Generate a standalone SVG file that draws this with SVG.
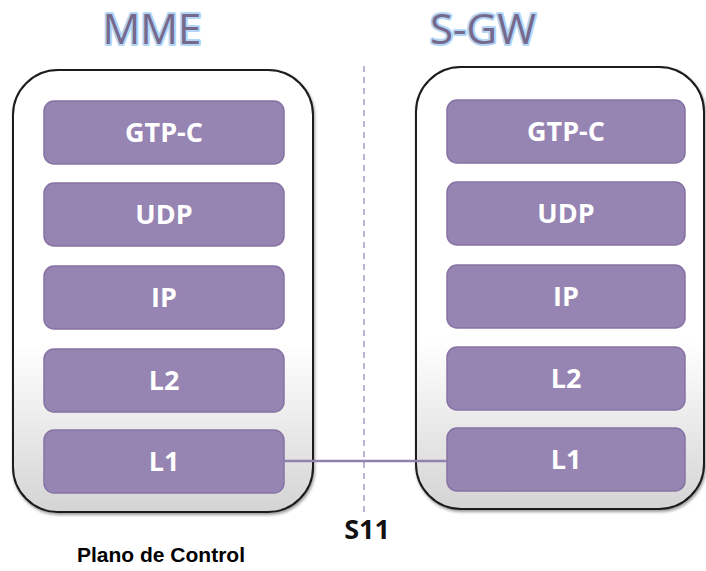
<svg xmlns="http://www.w3.org/2000/svg" width="706" height="571" viewBox="0 0 706 571">
<defs>
<linearGradient id="cg" x1="0" y1="0" x2="0" y2="1">
<stop offset="0" stop-color="#ffffff"/>
<stop offset="0.62" stop-color="#ffffff"/>
<stop offset="1" stop-color="#d4d4d4"/>
</linearGradient>
<filter id="sh" x="-10%" y="-10%" width="120%" height="120%">
<feGaussianBlur in="SourceAlpha" stdDeviation="1.5"/>
<feOffset dx="1" dy="2" result="b"/>
<feComponentTransfer><feFuncA type="linear" slope="0.4"/></feComponentTransfer>
<feMerge><feMergeNode/><feMergeNode in="SourceGraphic"/></feMerge>
</filter>
</defs>
<style>
.cont{fill:url(#cg);stroke:#1a1a1a;stroke-width:2}
.box{fill:#9684b2;stroke:#8673a3;stroke-width:1.5}
.bt{fill:#ffffff;font-family:"Open Sans","DejaVu Sans",sans-serif;font-weight:bold;font-size:27px;text-anchor:middle}
.title{fill:#76698c;stroke:#b3d5f6;stroke-width:4;stroke-linejoin:round;paint-order:stroke;font-family:"Open Sans","DejaVu Sans",sans-serif;font-size:42px;text-anchor:middle}
.lbl{fill:#111111;font-family:"Open Sans","Liberation Sans",sans-serif;font-weight:bold;font-size:27px;text-anchor:middle}
.cap{fill:#000000;font-family:"Liberation Sans",Arial,sans-serif;font-weight:bold;font-size:21px;text-anchor:middle}
</style>
<rect width="706" height="571" fill="#ffffff"/>
<text class="title" x="152" y="44">MME</text>
<text class="title" x="483" y="44">S-GW</text>
<line x1="364" y1="66" x2="364" y2="512" stroke="#a99cc2" stroke-width="1.5" stroke-dasharray="6,5"/>
<g id="mme">
<rect class="cont" x="13" y="70" width="300" height="442" rx="45" ry="45" filter="url(#sh)"/>
<g id="mme-gtpc"><rect class="box" x="44" y="101" width="240" height="63" rx="10"/><text class="bt" x="164" y="142">GTP-C</text></g>
<g id="mme-udp"><rect class="box" x="44" y="183" width="240" height="63" rx="10"/><text class="bt" x="164" y="224">UDP</text></g>
<g id="mme-ip"><rect class="box" x="44" y="266" width="240" height="63" rx="10"/><text class="bt" x="164" y="307">IP</text></g>
<g id="mme-l2"><rect class="box" x="44" y="349" width="240" height="63" rx="10"/><text class="bt" x="164" y="390">L2</text></g>
<g id="mme-l1"><rect class="box" x="44" y="430" width="240" height="63" rx="10"/><text class="bt" x="164" y="471">L1</text></g>
</g>
<g id="sgw">
<rect class="cont" x="416" y="67" width="288" height="442" rx="45" ry="45" filter="url(#sh)"/>
<g id="sgw-gtpc"><rect class="box" x="447" y="100" width="238" height="63" rx="10"/><text class="bt" x="566" y="141">GTP-C</text></g>
<g id="sgw-udp"><rect class="box" x="447" y="182" width="238" height="63" rx="10"/><text class="bt" x="566" y="223">UDP</text></g>
<g id="sgw-ip"><rect class="box" x="447" y="265" width="238" height="63" rx="10"/><text class="bt" x="566" y="306">IP</text></g>
<g id="sgw-l2"><rect class="box" x="447" y="347" width="238" height="63" rx="10"/><text class="bt" x="566" y="388">L2</text></g>
<g id="sgw-l1"><rect class="box" x="447" y="428" width="238" height="63" rx="10"/><text class="bt" x="566" y="469">L1</text></g>
</g>
<g id="connectors">
<line x1="284" y1="461" x2="447" y2="461" stroke="#9181ae" stroke-width="2.5"/>
</g>
<text class="lbl" x="367" y="539">S11</text>
<text class="cap" x="161" y="562">Plano de Control</text>
</svg>
